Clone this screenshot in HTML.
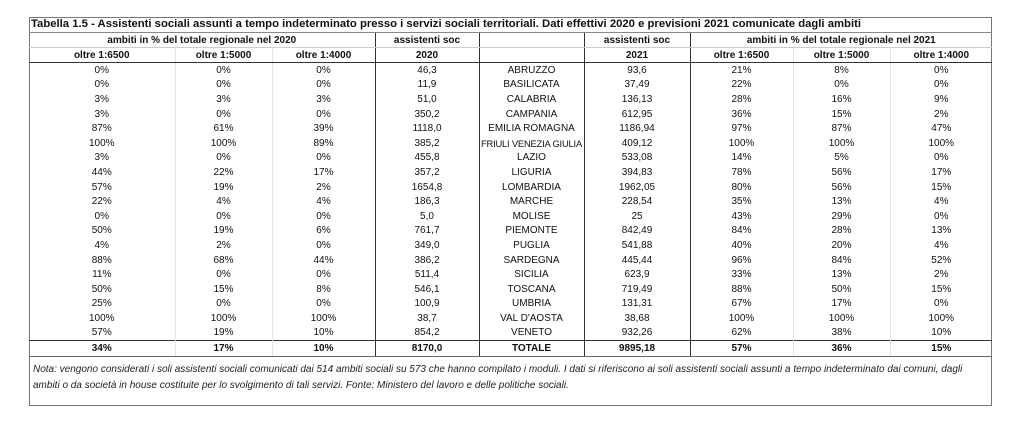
<!DOCTYPE html>
<html><head><meta charset="utf-8"><style>
body{margin:0;background:#fff;width:1024px;height:433px;position:relative;font-family:"Liberation Sans",sans-serif;color:#111}
#box{position:absolute;left:29px;top:17px;width:963px;height:389px;border:1px solid #777;box-sizing:border-box}
table{position:absolute;left:29px;top:17px;border-collapse:collapse;table-layout:fixed;width:963px;font-size:10px}
td{height:14.6px;padding:0;text-align:center;white-space:nowrap;overflow:hidden;line-height:13px;border-left:1px solid #e4e4e4}
tr.t td{height:15px;font-weight:bold;font-size:11.3px;text-align:left;padding-left:2px;border-bottom:1px solid #888;border-left:none}
tr.h td{height:14px;font-weight:bold;border-bottom:1px solid #ccc}
tr.h2 td{border-bottom:1.5px solid #333}
td.b{border-left:1px solid #333}
tr.tot td{font-weight:bold;border-top:1.5px solid #333;border-bottom:1px solid #666}
#note{position:absolute;left:33px;top:362px;width:955px;white-space:nowrap;font-size:10px;font-style:italic;line-height:16px;color:#222}
</style></head><body>
<div id="box"></div>
<table>
<colgroup><col style="width:146px"><col style="width:97px"><col style="width:103px"><col style="width:104px"><col style="width:105px"><col style="width:106px"><col style="width:103px"><col style="width:97px"><col style="width:102px"></colgroup>
<tr class="t"><td colspan="9">Tabella 1.5 - Assistenti sociali assunti a tempo indeterminato presso i servizi sociali territoriali. Dati effettivi 2020 e previsioni 2021 comunicate dagli ambiti</td></tr>
<tr class="h"><td colspan="3" style="border-left:none">ambiti in % del totale regionale nel 2020</td><td class="b">assistenti soc</td><td class="b"></td><td class="b">assistenti soc</td><td colspan="3" class="b">ambiti in % del totale regionale nel 2021</td></tr>
<tr class="h h2"><td style="border-left:none">oltre 1:6500</td><td>oltre 1:5000</td><td>oltre 1:4000</td><td class="b">2020</td><td class="b"></td><td class="b">2021</td><td class="b">oltre 1:6500</td><td>oltre 1:5000</td><td>oltre 1:4000</td></tr>
<tr><td style="border-left:none">0%</td><td>0%</td><td>0%</td><td class="b">46,3</td><td class="b">ABRUZZO</td><td class="b">93,6</td><td class="b">21%</td><td>8%</td><td>0%</td></tr>
<tr><td style="border-left:none">0%</td><td>0%</td><td>0%</td><td class="b">11,9</td><td class="b">BASILICATA</td><td class="b">37,49</td><td class="b">22%</td><td>0%</td><td>0%</td></tr>
<tr><td style="border-left:none">3%</td><td>3%</td><td>3%</td><td class="b">51,0</td><td class="b">CALABRIA</td><td class="b">136,13</td><td class="b">28%</td><td>16%</td><td>9%</td></tr>
<tr><td style="border-left:none">3%</td><td>0%</td><td>0%</td><td class="b">350,2</td><td class="b">CAMPANIA</td><td class="b">612,95</td><td class="b">36%</td><td>15%</td><td>2%</td></tr>
<tr><td style="border-left:none">87%</td><td>61%</td><td>39%</td><td class="b">1118,0</td><td class="b">EMILIA ROMAGNA</td><td class="b">1186,94</td><td class="b">97%</td><td>87%</td><td>47%</td></tr>
<tr><td style="border-left:none">100%</td><td>100%</td><td>89%</td><td class="b">385,2</td><td class="b" style="font-size:9.4px;letter-spacing:-0.2px">FRIULI VENEZIA GIULIA</td><td class="b">409,12</td><td class="b">100%</td><td>100%</td><td>100%</td></tr>
<tr><td style="border-left:none">3%</td><td>0%</td><td>0%</td><td class="b">455,8</td><td class="b">LAZIO</td><td class="b">533,08</td><td class="b">14%</td><td>5%</td><td>0%</td></tr>
<tr><td style="border-left:none">44%</td><td>22%</td><td>17%</td><td class="b">357,2</td><td class="b">LIGURIA</td><td class="b">394,83</td><td class="b">78%</td><td>56%</td><td>17%</td></tr>
<tr><td style="border-left:none">57%</td><td>19%</td><td>2%</td><td class="b">1654,8</td><td class="b">LOMBARDIA</td><td class="b">1962,05</td><td class="b">80%</td><td>56%</td><td>15%</td></tr>
<tr><td style="border-left:none">22%</td><td>4%</td><td>4%</td><td class="b">186,3</td><td class="b">MARCHE</td><td class="b">228,54</td><td class="b">35%</td><td>13%</td><td>4%</td></tr>
<tr><td style="border-left:none">0%</td><td>0%</td><td>0%</td><td class="b">5,0</td><td class="b">MOLISE</td><td class="b">25</td><td class="b">43%</td><td>29%</td><td>0%</td></tr>
<tr><td style="border-left:none">50%</td><td>19%</td><td>6%</td><td class="b">761,7</td><td class="b">PIEMONTE</td><td class="b">842,49</td><td class="b">84%</td><td>28%</td><td>13%</td></tr>
<tr><td style="border-left:none">4%</td><td>2%</td><td>0%</td><td class="b">349,0</td><td class="b">PUGLIA</td><td class="b">541,88</td><td class="b">40%</td><td>20%</td><td>4%</td></tr>
<tr><td style="border-left:none">88%</td><td>68%</td><td>44%</td><td class="b">386,2</td><td class="b">SARDEGNA</td><td class="b">445,44</td><td class="b">96%</td><td>84%</td><td>52%</td></tr>
<tr><td style="border-left:none">11%</td><td>0%</td><td>0%</td><td class="b">511,4</td><td class="b">SICILIA</td><td class="b">623,9</td><td class="b">33%</td><td>13%</td><td>2%</td></tr>
<tr><td style="border-left:none">50%</td><td>15%</td><td>8%</td><td class="b">546,1</td><td class="b">TOSCANA</td><td class="b">719,49</td><td class="b">88%</td><td>50%</td><td>15%</td></tr>
<tr><td style="border-left:none">25%</td><td>0%</td><td>0%</td><td class="b">100,9</td><td class="b">UMBRIA</td><td class="b">131,31</td><td class="b">67%</td><td>17%</td><td>0%</td></tr>
<tr><td style="border-left:none">100%</td><td>100%</td><td>100%</td><td class="b">38,7</td><td class="b">VAL D'AOSTA</td><td class="b">38,68</td><td class="b">100%</td><td>100%</td><td>100%</td></tr>
<tr><td style="border-left:none">57%</td><td>19%</td><td>10%</td><td class="b">854,2</td><td class="b">VENETO</td><td class="b">932,26</td><td class="b">62%</td><td>38%</td><td>10%</td></tr>
<tr class="tot"><td style="border-left:none">34%</td><td>17%</td><td>10%</td><td class="b">8170,0</td><td class="b">TOTALE</td><td class="b">9895,18</td><td class="b">57%</td><td>36%</td><td>15%</td></tr>
</table>
<div id="note">Nota: vengono considerati i soli assistenti sociali comunicati dai 514 ambiti sociali su 573 che hanno compilato i moduli. I dati si riferiscono ai soli assistenti sociali assunti a tempo indeterminato dai comuni, dagli<br>ambiti o da società in house costituite per lo svolgimento di tali servizi. Fonte: Ministero del lavoro e delle politiche sociali.</div>
</body></html>
